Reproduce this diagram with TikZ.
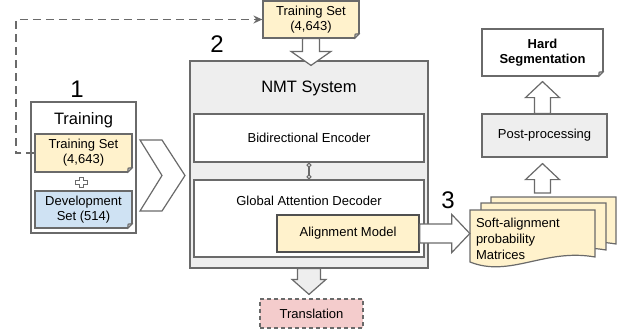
\documentclass[tikz,border=0pt]{standalone}
\usepackage{fontspec}
\setmainfont{Liberation Sans}
\usetikzlibrary{arrows.meta,calc}
\definecolor{bd}{HTML}{6A6A6A}
\definecolor{bdd}{HTML}{505050}
\definecolor{yel}{HTML}{FFF2CC}
\definecolor{blu}{HTML}{CFE2F3}
\definecolor{pnk}{HTML}{F4CCCC}
\definecolor{gry}{HTML}{EEEEEE}
\newcommand\fsz[2]{\fontsize{#1}{#2}\selectfont}
\newcommand\vdown[6][]{\draw[blk,#1] let \p1=#2, \p2=#3 in (\x1-#4,\y1) -- (\x1-#4,\y2+#6) -- (\x1-#5,\y2+#6) -- (\x1,\y2) -- (\x1+#5,\y2+#6) -- (\x1+#4,\y2+#6) -- (\x1+#4,\y1) -- cycle;}
\newcommand\vup[6][]{\draw[blk,#1] let \p1=#2, \p2=#3 in (\x1-#4,\y1) -- (\x1-#4,\y2-#6) -- (\x1-#5,\y2-#6) -- (\x1,\y2) -- (\x1+#5,\y2-#6) -- (\x1+#4,\y2-#6) -- (\x1+#4,\y1) -- cycle;}
\newcommand\hright[6][]{\draw[blk,#1] let \p1=#2, \p2=#3 in (\x1,\y1-#4) -- (\x2-#6,\y1-#4) -- (\x2-#6,\y1-#5) -- (\x2,\y1) -- (\x2-#6,\y1+#5) -- (\x2-#6,\y1+#4) -- (\x1,\y1+#4) -- cycle;}
\newcommand\fold[1]{%
  \fill[white] ([xshift=-5.5pt,yshift=-1pt]#1.south east) -- ([xshift=1pt,yshift=-1pt]#1.south east) -- ([xshift=1pt,yshift=5.5pt]#1.south east) -- cycle;
  \draw[bd, line width=1.1pt, fill=bd!45, line join=round] ([xshift=-5pt]#1.south east) -- ([yshift=5pt]#1.south east) -- ([xshift=-4.5pt,yshift=4.5pt]#1.south east) -- cycle;}
\newcommand\page[2]{\draw[draw=bd, line width=1.2pt, fill=yel, shift={(#1,#2)}] (470,210) -- (595,210) -- (595,257) .. controls (545,248) and (510,278) .. (470,262) -- cycle;}
\begin{document}
\begin{tikzpicture}[x=1pt,y=-1pt,
  box/.style={draw=bd, line width=1.2pt, rectangle, inner sep=0pt, align=center, font=\fsz{13}{15}},
  blk/.style={draw=bd, line width=1.2pt, line join=miter, fill=white},
  lbl/.style={font=\fsz{24}{28}, inner sep=0pt},
  ttl/.style={font=\fsz{16.5}{19}, inner sep=0pt}]
\useasboundingbox (0,0) rectangle (621,335);
% top training set
\node[box, fill=yel, minimum width=96pt, minimum height=37pt] (tstop) at (311,19.5) {Training Set\\(4,643)};
\fold{tstop}
% training block
\node[box, fill=white, minimum width=105pt, minimum height=131pt] (train) at (83.5,167.5) {};
\node[ttl] (traintitle) at (83.5,120) {Training};
\node[box, fill=yel, minimum width=97pt, minimum height=38pt] (tsin) at (83.5,153) {Training Set\\(4,643)};
\fold{tsin}
\node[box, fill=blu, minimum width=97pt, minimum height=37pt] (dev) at (83.5,209.5) {Development\\Set (514)};
\fold{dev}
\coordinate (plus) at (81.5,182);
\draw[bd, line width=0.9pt, fill=white, shift={(plus)}] (-2,-5) -- (2,-5) -- (2,-2) -- (6,-2) -- (6,2) -- (2,2) -- (2,5) -- (-2,5) -- (-2,2) -- (-6,2) -- (-6,-2) -- (-2,-2) -- cycle;
\node[lbl] (n1) at (77,89.5) {1};
% dashed feedback
\draw[bd, line width=1.6pt, dash pattern=on 8pt off 5pt, -{Stealth[length=9pt,width=8pt]}] (tsin.west) -- ++(-18.5,0) |- (tstop.west);
% chevron
\draw[blk] (140,140) -- (162,140) -- (185,175.5) -- (162,211) -- (140,211) -- (162,175.5) -- cycle;
% NMT system
\node[box, fill=gry, minimum width=238pt, minimum height=207pt] (nmt) at (309,164.5) {};
\node[ttl] (nmttitle) at (309,88) {NMT System};
\node[box, fill=white, minimum width=230pt, minimum height=48pt] (enc) at (309,138) {Bidirectional Encoder};
\node[box, fill=white, minimum width=230pt, minimum height=77pt] (dec) at (309,218.5) {};
\node[font=\fsz{13}{15}, inner sep=0pt] (dectext) at (309,201) {Global Attention Decoder};
\node[box, draw=bdd, line width=1.7pt, fill=yel, minimum width=142pt, minimum height=37pt] (am) at (348,233.5) {Alignment Model};
\draw[bd, line width=1.1pt, {Circle[open,length=5pt,width=5pt]}-{Circle[open,length=5pt,width=5pt]}] (enc.south) -- (dec.north);
\node[lbl] (n2) at (217,44) {2};
\vdown{(tstop.south)}{([yshift=-5pt]nmt.north)}{8.5pt}{20pt}{14pt}
% translation
\node[box, dash pattern=on 4pt off 3pt, fill=pnk, minimum width=103pt, minimum height=29pt] (trans) at (311.5,313.5) {Translation};
\vdown[fill=gry]{(nmt.south)}{([yshift=4pt]trans.north)}{11.5pt}{17pt}{15pt}
% stack
\page{21}{-13}
\page{11}{-7}
\page{0}{0}
\node[font=\fsz{13}{16}, text width=113pt, align=left, inner xsep=6pt, inner ysep=0pt] (soft) at (532.5,238.5) {Soft-alignment\\probability\\Matrices};
\hright{(am.east)}{(soft.west)}{9.5pt}{19pt}{18pt}
\node[lbl] (n3) at (448,200) {3};
% right column
\node[box, fill=white, minimum width=121pt, minimum height=47pt, font=\bfseries\fsz{13}{15}] (hard) at (542.5,52.5) {Hard\\Segmentation};
\fold{hard}
\node[box, fill=gry, minimum width=125pt, minimum height=43pt] (pp) at (544.5,135.5) {Post-processing};
\coordinate (stacktop) at (542.5,193);
\vup{(hard.south |- pp.north)}{([yshift=-5pt]hard.south)}{8pt}{17pt}{16pt}
\vup{(stacktop)}{([yshift=-6pt]hard.south |- pp.south)}{8pt}{17pt}{16pt}
\end{tikzpicture}
\end{document}
